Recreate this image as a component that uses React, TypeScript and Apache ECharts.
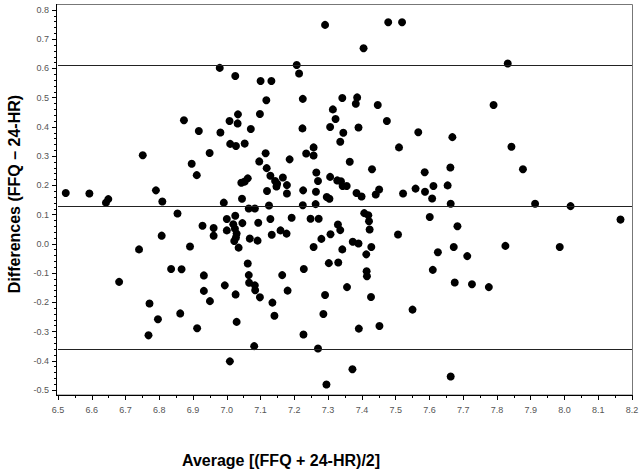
import React, { useEffect, useRef } from "react";
import * as echarts from "echarts";

const averages = [
  6.523, 6.593, 6.642, 6.649, 6.751, 6.79, 6.809, 6.873, 6.896, 6.911, 6.917, 6.854, 6.807, 6.891, 6.74, 6.681,
  6.835, 6.866, 6.771, 6.796, 6.862, 6.912, 6.768,
  6.949, 6.979, 7.025, 6.981, 7.008, 7.033, 7.032, 7.01, 7.027, 7.053, 7.043, 7.053, 6.991, 7.045, 7.062, 7.065,
  7.083, 7.025, 7.0, 7.071, 7.1, 7.132, 7.117, 7.098,
  6.928, 6.961, 6.961, 7.0, 7.019, 7.024, 7.029, 7.027, 7.022, 7.035, 7.046, 7.093, 7.068, 7.091, 7.062, 7.065,
  7.066, 7.083, 7.084, 7.026, 6.932, 6.994, 6.932, 6.95, 7.029, 7.009, 7.081, 7.098,
  7.207, 7.214, 7.225, 7.224, 7.115, 7.096, 7.118, 7.129, 7.166, 7.143, 7.149, 7.147, 7.178, 7.119, 7.178, 7.226,
  7.186, 7.235, 7.257, 7.257, 7.265, 7.27, 7.264, 7.125, 7.225, 7.263, 7.129, 7.192, 7.248, 7.272, 7.133, 7.159,
  7.177, 7.257, 7.228, 7.164, 7.18, 7.135, 7.141, 7.227, 7.27, 7.28, 7.291,
  7.405, 7.342, 7.386, 7.382, 7.447, 7.314, 7.322, 7.306, 7.39, 7.345, 7.336, 7.364, 7.43, 7.306, 7.327, 7.338,
  7.343, 7.355, 7.384, 7.399, 7.441, 7.451, 7.296, 7.304, 7.407, 7.419, 7.421, 7.423, 7.329, 7.336, 7.307, 7.373,
  7.39, 7.428, 7.342, 7.413, 7.302, 7.33, 7.414, 7.415, 7.356, 7.291, 7.427, 7.286, 7.391, 7.452, 7.372, 7.295,
  7.478, 7.519, 7.474, 7.567, 7.51, 7.586, 7.522, 7.559, 7.587, 7.612, 7.608, 7.654, 7.662, 7.668, 7.79, 7.832,
  7.843, 7.877, 7.663, 7.913, 8.018, 7.601, 8.166, 7.683, 7.507, 7.55, 7.625, 7.672, 7.712, 7.825, 7.986, 7.61,
  7.675, 7.726, 7.776, 7.663,
];

const differences = [
  0.174, 0.172, 0.141, 0.153, 0.303, 0.183, 0.145, 0.423, 0.274, 0.235, 0.386, 0.104, 0.028, -0.009, -0.019, -0.13,
  -0.086, -0.087, -0.204, -0.258, -0.238, -0.289, -0.313,
  0.311, 0.602, 0.574, 0.381, 0.42, 0.443, 0.412, 0.342, 0.335, 0.343, 0.209, 0.213, 0.141, 0.154, 0.224, 0.121,
  0.121, 0.096, 0.085, 0.393, 0.557, 0.557, 0.491, 0.444,
  0.062, 0.054, 0.028, 0.046, 0.067, 0.052, 0.035, 0.022, 0.01, -0.013, 0.071, 0.072, 0.018, 0.011, -0.067, -0.107,
  -0.133, -0.142, -0.159, -0.173, -0.108, -0.142, -0.161, -0.196, -0.267, -0.402, -0.35, -0.183,
  0.612, 0.583, 0.496, 0.395, 0.31, 0.282, 0.259, 0.233, 0.227, 0.215, 0.206, 0.196, 0.201, 0.181, 0.172, 0.183,
  0.289, 0.309, 0.302, 0.33, 0.244, 0.215, 0.178, 0.131, 0.132, 0.136, 0.085, 0.089, 0.086, 0.086, 0.031, 0.046,
  0.035, -0.011, -0.086, -0.107, -0.16, -0.201, -0.246, -0.31, -0.358, 0.017, 0.749,
  0.669, 0.499, 0.501, 0.479, 0.475, 0.46, 0.427, 0.4, 0.398, 0.38, 0.349, 0.281, 0.255, 0.229, 0.217, 0.214,
  0.198, 0.198, 0.174, 0.162, 0.169, 0.186, 0.16, 0.154, 0.105, 0.098, 0.077, 0.049, 0.066, 0.047, 0.033, 0.007,
  0.001, -0.011, -0.019, -0.036, -0.066, -0.064, -0.094, -0.111, -0.148, -0.175, -0.182, -0.24, -0.29, -0.281, -0.429, -0.481,
  0.758, 0.758, 0.42, 0.382, 0.33, 0.245, 0.172, 0.189, 0.178, 0.198, 0.155, 0.2, 0.261, 0.365, 0.475, 0.617,
  0.332, 0.255, 0.137, 0.137, 0.129, 0.092, 0.083, 0.06, 0.032, -0.225, -0.029, -0.011, -0.042, -0.007, -0.011, -0.089,
  -0.132, -0.138, -0.148, -0.454,
];

const limitLines = [0.614, 0.126, -0.361];

const xTitle = "Average [(FFQ + 24-HR)/2]";
const yTitle = "Differences (FFQ \u2013 24-HR)";

const FONT = 'Arial, "Liberation Sans", sans-serif';

export default function App() {
  const ref = useRef<HTMLDivElement>(null);
  useEffect(() => {
    if (!ref.current) return;
    const chart = echarts.init(ref.current, undefined, { renderer: "svg" });
    const points = averages.map((x, i) => [x, differences[i]]);
    const labelStyle = { color: "#555", fontSize: 9, fontFamily: FONT };
    chart.setOption({
      animation: false,
      backgroundColor: "#fff",
      grid: { left: 58, right: 10, top: 10, bottom: 84, show: false },
      xAxis: {
        type: "value",
        min: 6.5,
        max: 8.2,
        interval: 0.1,
        offset: 5,
        axisLine: { show: false, onZero: false },
        axisTick: { show: true, length: 5, lineStyle: { color: "#000" } },
        minorTick: { show: true, splitNumber: 2, length: 3, lineStyle: { color: "#000" } },
        axisLabel: { ...labelStyle, margin: 10, formatter: (v: number) => v.toFixed(1) },
        splitLine: { show: false },
      },
      yAxis: {
        type: "value",
        min: -0.5,
        max: 0.8,
        interval: 0.1,
        offset: 2,
        axisLine: { show: false, onZero: false },
        axisTick: { show: true, length: 4, lineStyle: { color: "#000" } },
        minorTick: { show: true, splitNumber: 5, length: 2, lineStyle: { color: "#000" } },
        axisLabel: { ...labelStyle, margin: 7, formatter: (v: number) => v.toFixed(1) },
        splitLine: { show: false },
      },
      series: [
        {
          type: "scatter",
          data: points,
          clip: false,
          symbol: "circle",
          symbolSize: 8,
          itemStyle: { color: "#000", opacity: 1 },
          markLine: {
            silent: true,
            symbol: ["none", "none"],
            label: { show: false },
            lineStyle: { color: "#222", width: 1, type: "solid" },
            data: limitLines.map((v) => ({ yAxis: v })),
          },
        },
      ],
      graphic: [
        {
          type: "rect",
          shape: { x: 56.5, y: 4.5, width: 576, height: 390.5 },
          style: { fill: "none", stroke: "#777", lineWidth: 1 },
          silent: true,
        },
        {
          type: "line",
          shape: { x1: 56.5, y1: 4, x2: 56.5, y2: 395.5 },
          style: { stroke: "#000", lineWidth: 1 },
          silent: true,
        },
        {
          type: "line",
          shape: { x1: 56, y1: 395.5, x2: 633, y2: 395.5 },
          style: { stroke: "#000", lineWidth: 1 },
          silent: true,
        },
        {
          type: "text",
          x: 281,
          y: 460,
          style: {
            text: xTitle,
            font: `bold 16px ${FONT}`,
            fill: "#000",
            align: "center",
            verticalAlign: "middle",
          },
        },
        {
          type: "text",
          x: 14,
          y: 194,
          rotation: Math.PI / 2,
          style: {
            text: yTitle,
            font: `bold 16px ${FONT}`,
            fill: "#000",
            align: "center",
            verticalAlign: "middle",
          },
        },
      ],
    });
    return () => chart.dispose();
  }, []);
  return (
    <div
      ref={ref}
      style={{ position: "fixed", left: 0, top: 0, width: 642, height: 474, background: "#fff" }}
    />
  );
}
